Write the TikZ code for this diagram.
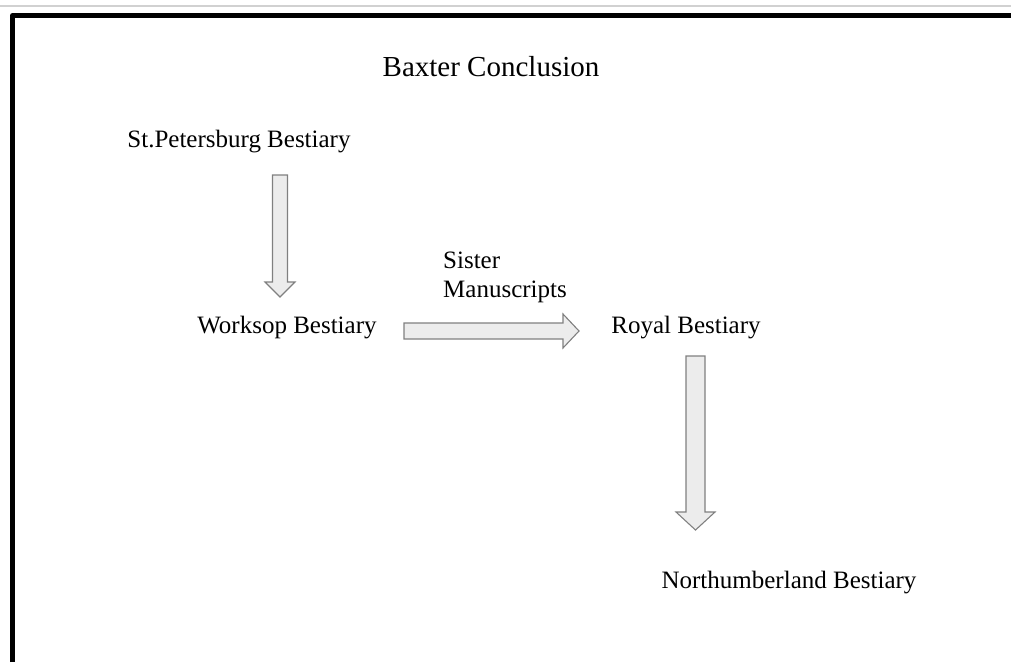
\documentclass[tikz,border=0pt]{standalone}
\usepackage{fontspec}
\setmainfont{Liberation Serif}
\usetikzlibrary{calc}
\definecolor{arrowline}{HTML}{808080}
\definecolor{arrowfill}{HTML}{ECECEC}

\begin{document}
\begin{tikzpicture}[x=1pt, y=-1pt,
    label/.style={font=\fontsize{25pt}{29pt}\selectfont, inner sep=0pt},
    fat arrow/.style n args={3}{draw=arrowline, fill=arrowfill, line width=1.1pt, line join=miter,
        to path={($(\tikztostart)!#1!90:(\tikztotarget)$)
            -- ($($(\tikztotarget)!#2!(\tikztostart)$)!#1!90:(\tikztotarget)$)
            -- ($($(\tikztotarget)!#2!(\tikztostart)$)!#3!90:(\tikztotarget)$)
            -- (\tikztotarget)
            -- ($($(\tikztotarget)!#2!(\tikztostart)$)!#3!-90:(\tikztotarget)$)
            -- ($($(\tikztotarget)!#2!(\tikztostart)$)!#1!-90:(\tikztotarget)$)
            -- ($(\tikztostart)!#1!-90:(\tikztotarget)$) -- cycle}}]
        \useasboundingbox (0, 0) rectangle (1011, 662);

        % frame
        \draw[black!18, line width=1.5pt] (0, 6) -- (1011, 6);
        \draw[line width=5pt, line join=round] (12.5, 662) -- (12.5, 15.5) -- (1011, 15.5);

        \node[label, font=\fontsize{29pt}{33pt}\selectfont, anchor=base] (title) at (491, 76) {Baxter Conclusion};

        \node[label, anchor=base] (stpete) at (239, 147) {St.Petersburg Bestiary};
        \node[label, anchor=base] (worksop) at (287, 333) {Worksop Bestiary};
        \node[label, anchor=base] (royal) at (686, 333) {Royal Bestiary};
        \node[label, anchor=base] (northumb) at (789, 588) {Northumberland Bestiary};
        \node[label, anchor=base west, align=left] (sister) at (443, 297) {Sister\\Manuscripts};

        \coordinate (a1s) at (280, 175);
        \coordinate (a1e) at (280, 297);
        \coordinate (a2s) at (404, 331);
        \coordinate (a2e) at (579, 331);
        \coordinate (a3s) at (695.5, 356);
        \coordinate (a3e) at (695.5, 530);

        \draw[fat arrow={7.5pt}{15pt}{15pt}] (a1s) to (a1e);
        \draw[fat arrow={8pt}{16pt}{17pt}] (a2s) to (a2e);
        \draw[fat arrow={9.5pt}{18pt}{19.5pt}] (a3s) to (a3e);
    \end{tikzpicture}
\end{document}
